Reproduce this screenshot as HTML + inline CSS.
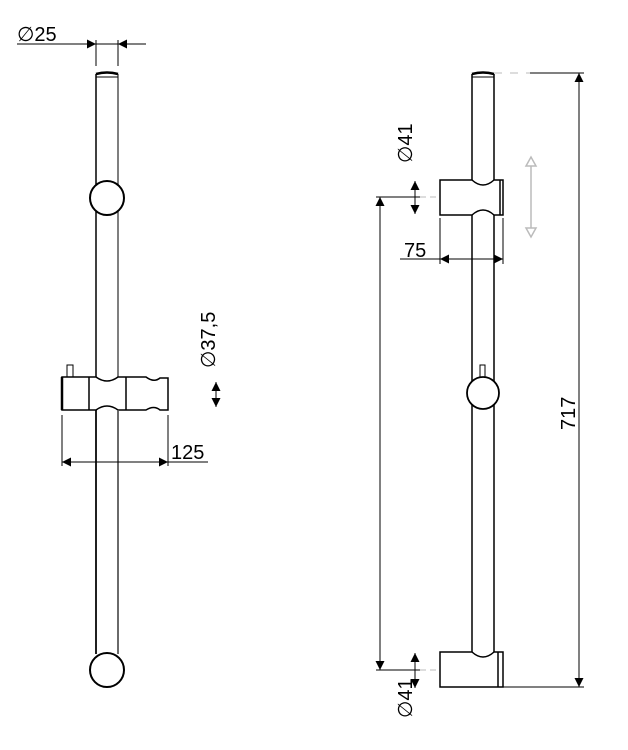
<!DOCTYPE html>
<html><head><meta charset="utf-8"><style>html,body{margin:0;padding:0;background:#fff}svg{display:block}</style></head>
<body>
<svg width="628" height="750" viewBox="0 0 628 750" xmlns="http://www.w3.org/2000/svg" font-family="'Liberation Sans',sans-serif" font-size="20">
<defs>
<marker id="a" viewBox="0 0 10 10" refX="10" refY="5" markerWidth="15" markerHeight="9" orient="auto-start-reverse" markerUnits="userSpaceOnUse"><path d="M0,0L10,5L0,10z" fill="#000"/></marker>
</defs>
<g stroke="#000" fill="none" stroke-width="1">
<!-- Left rod -->
<line x1="96" y1="74" x2="96" y2="654" stroke-width="1.5"/>
<line x1="118" y1="74" x2="118" y2="654" stroke-width="1.5" stroke="#555"/>
<path d="M96,74 Q107,71 118,74" stroke-width="2.5"/>
<line x1="96" y1="77" x2="118" y2="77"/>
<circle cx="107" cy="198" r="17" fill="#fff" stroke-width="2"/>
<circle cx="107" cy="670" r="17" fill="#fff" stroke-width="2"/>
<!-- slider -->
<rect x="67" y="365" width="6" height="12" fill="#fff"/>
<path d="M62,377 H96 Q107,385 118,377 H146 Q154,383 160,378 H168 V410 H160 Q154,405 146,410 H118 Q107,402 96,410 H62 Z" fill="#fff" stroke-width="1.5"/>
<line x1="62" y1="377" x2="62" y2="410" stroke-width="2.5"/>
<line x1="89" y1="377" x2="89" y2="410" stroke-width="1.5"/>
<line x1="126" y1="377" x2="126" y2="410" stroke-width="1.5"/>
<line x1="96" y1="410" x2="96" y2="654" stroke-width="1.5"/>
<line x1="118" y1="410" x2="118" y2="654" stroke-width="1.5" stroke="#555"/>
<!-- dims left -->
<line x1="17" y1="44" x2="146" y2="44"/>
<line x1="80" y1="44" x2="96" y2="44" marker-end="url(#a)"/>
<line x1="134" y1="44" x2="118" y2="44" marker-end="url(#a)"/>
<line x1="96" y1="40" x2="96" y2="66"/>
<line x1="118" y1="40" x2="118" y2="66"/>
<line x1="62" y1="415" x2="62" y2="466"/>
<line x1="168" y1="415" x2="168" y2="466"/>
<line x1="62" y1="462" x2="208" y2="462"/>
<line x1="78" y1="462" x2="62" y2="462" marker-end="url(#a)"/>
<line x1="152" y1="462" x2="168" y2="462" marker-end="url(#a)"/>
<line x1="216" y1="394" x2="216" y2="382" marker-end="url(#a)"/>
<line x1="216" y1="394" x2="216" y2="407" marker-end="url(#a)"/>
<!-- Right rod -->
<line x1="472" y1="74" x2="472" y2="655" stroke-width="1.5"/>
<line x1="494" y1="74" x2="494" y2="655" stroke-width="1.5"/>
<path d="M472,74 Q483,71 494,74" stroke-width="2.5"/>
<line x1="472" y1="77" x2="494" y2="77"/>
<rect x="480" y="365" width="5" height="12" fill="#fff"/>
<circle cx="483" cy="393" r="16" fill="#fff" stroke-width="1.8"/>
<!-- top bracket -->
<path d="M440,180 H472 Q483,190 494,180 H503 V215 H494 Q483,205 472,215 H440 Z" fill="#fff" stroke-width="1.5"/>
<line x1="500" y1="180" x2="500" y2="215" stroke-width="1.5"/>
<!-- bottom bracket -->
<path d="M440,652 H472 Q483,662 494,652 H503 V687 H440 Z" fill="#fff" stroke-width="1.5"/>
<line x1="498" y1="652" x2="498" y2="687" stroke-width="1.5"/>
<!-- right dims -->
<line x1="494" y1="73" x2="530" y2="73" stroke="#bbb" stroke-dasharray="8,8"/>
<line x1="530" y1="73" x2="584" y2="73"/>
<line x1="503" y1="687" x2="584" y2="687"/>
<line x1="579" y1="73" x2="579" y2="687"/>
<line x1="579" y1="100" x2="579" y2="73" marker-end="url(#a)"/>
<line x1="579" y1="660" x2="579" y2="687" marker-end="url(#a)"/>
<line x1="376" y1="197" x2="420" y2="197"/>
<line x1="420" y1="197" x2="440" y2="197" stroke="#bbb" stroke-dasharray="6,4"/>
<line x1="376" y1="670" x2="420" y2="670"/>
<line x1="420" y1="670" x2="440" y2="670" stroke="#bbb" stroke-dasharray="6,4"/>
<line x1="380" y1="197" x2="380" y2="670"/>
<line x1="380" y1="225" x2="380" y2="197" marker-end="url(#a)"/>
<line x1="380" y1="642" x2="380" y2="670" marker-end="url(#a)"/>
<line x1="415" y1="197" x2="415" y2="181" marker-end="url(#a)"/>
<line x1="415" y1="197" x2="415" y2="214" marker-end="url(#a)"/>
<line x1="415" y1="670" x2="415" y2="653" marker-end="url(#a)"/>
<line x1="415" y1="670" x2="415" y2="688" marker-end="url(#a)"/>
<line x1="440" y1="218" x2="440" y2="264"/>
<line x1="503" y1="218" x2="503" y2="264"/>
<line x1="400" y1="259" x2="503" y2="259"/>
<line x1="458" y1="259" x2="440" y2="259" marker-end="url(#a)"/>
<line x1="486" y1="259" x2="503" y2="259" marker-end="url(#a)"/>
<!-- gray double arrow -->
<g stroke="#bbb" stroke-width="1.5">
<line x1="531" y1="166" x2="531" y2="228"/>
<path d="M526,166 L531,157 L536,166 Z" fill="#fff"/>
<path d="M526,228 L531,237 L536,228 Z" fill="#fff"/>
</g>
</g>
<g fill="#000">
<text x="17" y="41" font-size="20">∅25</text>
<text x="171" y="459" font-size="20">125</text>
<text x="404" y="257" font-size="20">75</text>
<text transform="translate(215,368) rotate(-90)" font-size="20">∅37,5</text>
<text transform="translate(412,163) rotate(-90)" font-size="20">∅41</text>
<text transform="translate(412,718) rotate(-90)" font-size="20">∅41</text>
<text transform="translate(575,430) rotate(-90)" font-size="20">717</text>
</g>
</svg>
</body></html>
